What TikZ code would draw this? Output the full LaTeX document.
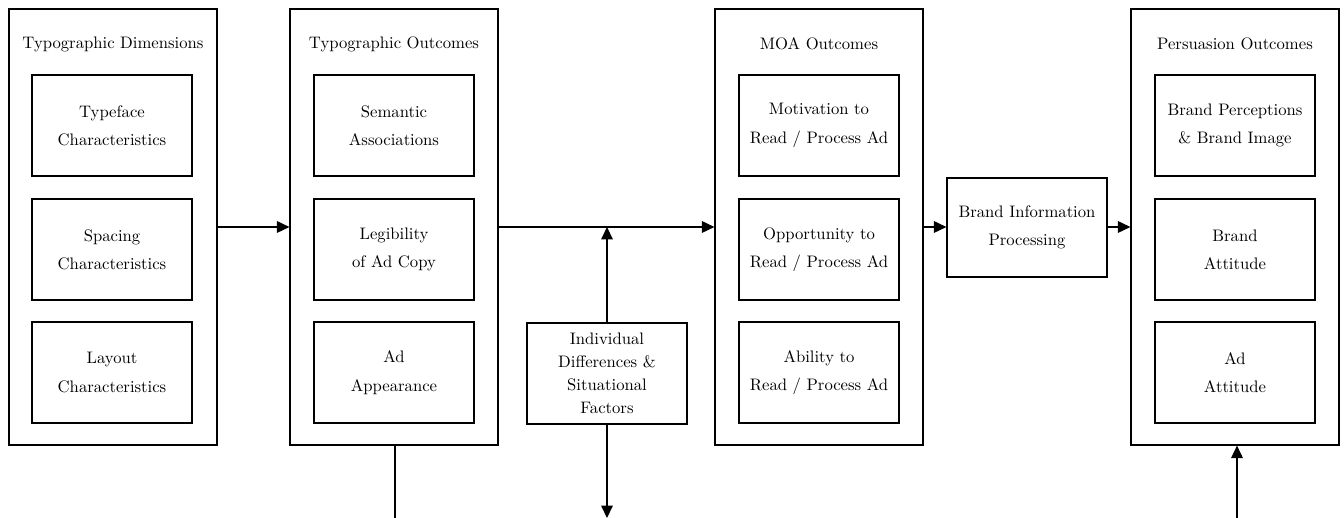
\documentclass[tikz,border=0pt]{standalone}
\usetikzlibrary{arrows.meta}
\begin{document}
\begin{tikzpicture}[x=0.6pt,y=-0.6pt,
  lw/.style={line width=0.7pt},
  cont/.style={draw,lw,minimum width=208*0.6pt,minimum height=436*0.6pt,inner sep=0pt},
  inbox/.style={draw,lw,minimum width=160*0.6pt,minimum height=101*0.6pt,align=center,inner sep=0pt,font=\normalsize},
  ttl/.style={font=\normalsize,inner sep=0pt},
  arr/.style={lw,-{Triangle[length=7.5pt,width=7pt]}}]
\useasboundingbox (0,0) rectangle (1344,518);
% containers
\node[cont] (c1) at (113,227) {};
\node[cont] (c2) at (394,227) {};
\node[cont] (c3) at (819,227) {};
\node[cont] (c4) at (1235,227) {};
\node[ttl] (t1) at (113,44) {Typographic Dimensions};
\node[ttl] (t2) at (394,44) {Typographic Outcomes};
\node[ttl] (t3) at (819,44) {MOA Outcomes};
\node[ttl] (t4) at (1235,44) {Persuasion Outcomes};
% inner boxes
\node[inbox] (a1) at (112,125.5) {Typeface\\[5pt]Characteristics};
\node[inbox] (a2) at (112,249.5) {Spacing\\[5pt]Characteristics};
\node[inbox] (a3) at (112,372.5) {Layout\\[5pt]Characteristics};
\node[inbox] (b1) at (394,125.5) {Semantic\\[5pt]Associations};
\node[inbox] (b2) at (394,249.5) {Legibility\\[5pt]of Ad Copy};
\node[inbox] (b3) at (394,372.5) {Ad\\[5pt]Appearance};
\node[inbox] (m1) at (819,125.5) {Motivation to\\[5pt]Read / Process Ad};
\node[inbox] (m2) at (819,249.5) {Opportunity to\\[5pt]Read / Process Ad};
\node[inbox] (m3) at (819,372.5) {Ability to\\[5pt]Read / Process Ad};
\node[inbox] (p1) at (1235,125.5) {Brand Perceptions\\[5pt]\& Brand Image};
\node[inbox] (p2) at (1235,249.5) {Brand\\[5pt]Attitude};
\node[inbox] (p3) at (1235,372.5) {Ad\\[5pt]Attitude};
\node[inbox,minimum height=99*0.6pt] (bip) at (1027,227.5) {Brand Information\\[5pt]Processing};
\node[inbox] (idf) at (607,373.5) {Individual\\[1.8pt]Differences \&\\[1.8pt]Situational\\[1.8pt]Factors};
% connectors
\coordinate (j) at (607,227);
\coordinate (bl) at (395,518);
\coordinate (bm) at (607,518);
\coordinate (br) at (1237,518);
\draw[arr] (c1.east |- j) -- (c2.west |- j);
\draw[arr] (c2.east |- j) -- (c3.west |- j);
\draw[arr] (idf.north) -- (j);
\draw[arr] (idf.south) -- (bm);
\draw[lw] (c2.south -| bl) -- (bl);
\draw[arr] (br) -- (c4.south -| br);
\draw[arr] (c3.east |- j) -- (bip.west |- j);
\draw[arr] (bip.east |- j) -- (c4.west |- j);
\end{tikzpicture}
\end{document}
